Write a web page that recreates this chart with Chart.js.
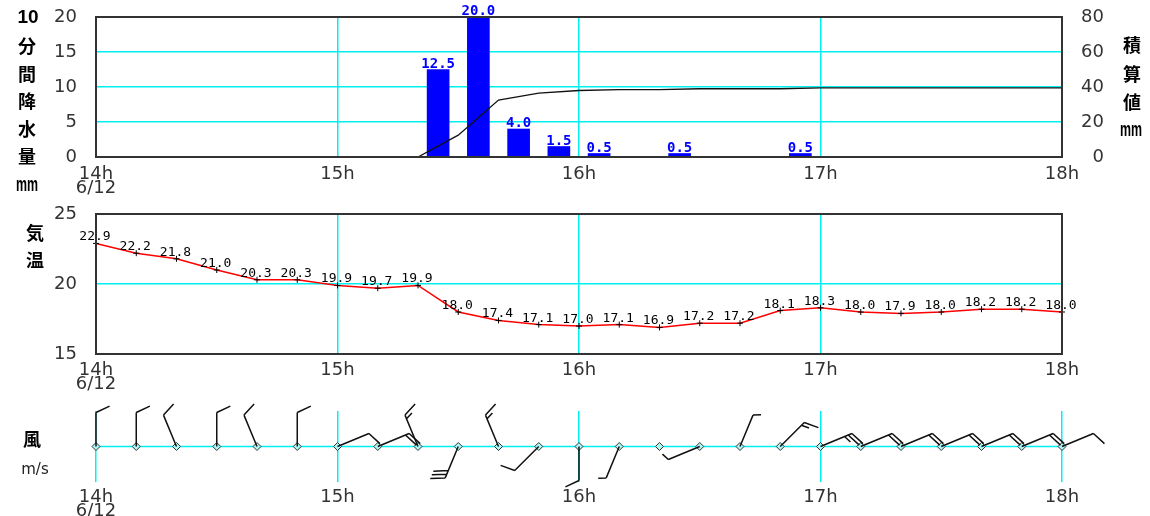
<!DOCTYPE html>
<html>
<head>
<meta charset="utf-8">
<script src="https://cdn.jsdelivr.net/npm/chart.js@4.4.1/dist/chart.umd.min.js"></script>
<style>
  html, body { margin: 0; padding: 0; background: #fff; }
  #wrap { position: relative; width: 1150px; height: 516px; overflow: hidden; }
  canvas { position: absolute; left: 0; }
  .t { position: absolute; transform: translate(-50%, -50%); line-height: 1; white-space: nowrap; color: #000; }
  .kj { font: bold 18px "Noto Sans CJK JP", sans-serif; }
  .num { font: bold 19px "Liberation Sans", sans-serif; }
  .mm { font: bold 20px "Liberation Sans", sans-serif; transform: translate(-50%, -50%) scaleX(0.62); }
  .ms { font: 15px "DejaVu Sans", sans-serif; color: #222; }
</style>
</head>
<body>
<div id="wrap">
  <canvas id="cRain" width="1150" height="200" style="top:0"></canvas>
  <canvas id="cTemp" width="1150" height="200" style="top:195px"></canvas>
  <canvas id="cWind" width="1150" height="121" style="top:395px"></canvas>

  <div class="t num" style="left:28px;top:17px">10</div>
  <div class="t kj" style="left:27px;top:45px">分</div>
  <div class="t kj" style="left:27px;top:73px">間</div>
  <div class="t kj" style="left:27px;top:100px">降</div>
  <div class="t kj" style="left:27px;top:128px">水</div>
  <div class="t kj" style="left:27px;top:155px">量</div>
  <div class="t mm" style="left:27px;top:184px">mm</div>

  <div class="t kj" style="left:1132px;top:44px">積</div>
  <div class="t kj" style="left:1132px;top:73px">算</div>
  <div class="t kj" style="left:1132px;top:101px">値</div>
  <div class="t mm" style="left:1131px;top:129px">mm</div>

  <div class="t kj" style="left:35px;top:232px">気</div>
  <div class="t kj" style="left:35px;top:259px">温</div>

  <div class="t kj" style="left:32px;top:438px">風</div>
  <div class="t ms" style="left:35px;top:469px">m/s</div>
</div>
<script>
// 時刻 (14時からの分)
const minutes = [0, 10, 20, 30, 40, 50, 60, 70, 80, 90, 100, 110, 120, 130, 140, 150, 160, 170, 180, 190, 200, 210, 220, 230, 240];
const hourLabels = ['14h', '15h', '16h', '17h', '18h'];
const dateLabel = '6/12';

// 10分間降水量 (各10分間の中央に棒)
const rainMid = [5, 15, 25, 35, 45, 55, 65, 75, 85, 95, 105, 115, 125, 135, 145, 155, 165, 175, 185, 195, 205, 215, 225, 235];
const rain10 = [0, 0, 0, 0, 0, 0, 0, 0, 12.5, 20.0, 4.0, 1.5, 0.5, 0, 0.5, 0, 0, 0.5, 0, 0, 0, 0, 0, 0];
// 積算値
const rainSum = [0, 0, 0, 0, 0, 0, 0, 0, 0, 12.5, 32.5, 36.5, 38.0, 38.5, 38.5, 39.0, 39.0, 39.0, 39.5, 39.5, 39.5, 39.5, 39.5, 39.5, 39.5];
const rainTicks = [0, 5, 10, 15, 20];
const sumTicks = [0, 20, 40, 60, 80];

// 気温
const temps = [22.9, 22.2, 21.8, 21.0, 20.3, 20.3, 19.9, 19.7, 19.9, 18.0, 17.4, 17.1, 17.0, 17.1, 16.9, 17.2, 17.2, 18.1, 18.3, 18.0, 17.9, 18.0, 18.2, 18.2, 18.0];
const tempTicks = [15, 20, 25];

// 風向・風速 (矢羽根: 長=2m/s, 短=1m/s)
const windDir = ['N', 'N', 'NNW', 'N', 'NNW', 'N', 'ENE', 'ENE', 'NNW', 'SSW', 'NNW', 'SW', 'S', 'SSW', '', 'WSW', 'NNE', 'NE', 'ENE', 'ENE', 'ENE', 'ENE', 'ENE', 'ENE', 'ENE'];
const windSpeed = [2, 2, 2, 2, 2, 2, 2, 4, 3, 6, 3, 2, 2, 1, 0, 1, 1, 3, 5, 4, 4, 4, 4, 4, 2];

const compass = ['N', 'NNE', 'NE', 'ENE', 'E', 'ESE', 'SE', 'SSE', 'S', 'SSW', 'SW', 'WSW', 'W', 'WNW', 'NW', 'NNW'];
const CYAN = '#00f0f0';
const TICK_FONT = { family: 'DejaVu Sans', size: 18 };

// x軸 (共通)
function xAxis(height, pad) {
    return {
        type: 'linear',
        min: minutes[0],
        max: minutes[minutes.length - 1],
        offset: false,
        afterFit: s => { s.height = height; },
        afterBuildTicks: s => { s.ticks = hourLabels.map((_, i) => ({ value: i * 60 })); },
        ticks: {
            autoSkip: false,
            maxRotation: 0,
            padding: pad,
            color: '#333',
            font: { family: 'DejaVu Sans', size: 18, lineHeight: 0.8 },
            callback: v => {
                const i = Math.round(v / 60);
                return i === 0 ? [hourLabels[0], dateLabel] : hourLabels[i];
            }
        },
        grid: { color: CYAN, lineWidth: 1.5, drawTicks: false, offset: false },
        border: { display: false }
    };
}

// y軸の幅を固定 (ラベル分の余白は取らない)
function fixWidth(w) {
    return s => {
        s.width = w;
        s.paddingTop = 0;
        s.paddingBottom = 0;
    };
}

// 左y軸
function yLeft(ticksArr) {
    return {
        position: 'left',
        min: ticksArr[0],
        max: ticksArr[ticksArr.length - 1],
        afterFit: fixWidth(96),
        afterBuildTicks: s => { s.ticks = ticksArr.map(v => ({ value: v })); },
        ticks: { padding: 19, color: '#333', font: TICK_FONT },
        grid: { color: CYAN, lineWidth: 1.5, drawTicks: false },
        border: { display: false }
    };
}

// 枠線
const boxPlugin = {
    id: 'box',
    afterDraw(chart) {
        const { ctx, chartArea: a } = chart;
        ctx.save();
        ctx.strokeStyle = '#333';
        ctx.lineWidth = 2;
        ctx.strokeRect(a.left, a.top, a.right - a.left, a.bottom - a.top);
        ctx.restore();
    }
};

// 棒の上の数値
const rainLabels = {
    id: 'rainLabels',
    afterDatasetsDraw(chart) {
        const { ctx } = chart;
        const meta = chart.getDatasetMeta(0);
        ctx.save();
        ctx.font = 'bold 14px "DejaVu Sans Mono"';
        ctx.fillStyle = '#0000ff';
        ctx.textAlign = 'center';
        ctx.textBaseline = 'alphabetic';
        meta.data.forEach((bar, i) => {
            if (rain10[i] > 0) ctx.fillText(rain10[i].toFixed(1), bar.x, bar.y - 2);
        });
        ctx.restore();
    }
};

// 気温の数値
const tempLabels = {
    id: 'tempLabels',
    afterDatasetsDraw(chart) {
        const { ctx } = chart;
        const meta = chart.getDatasetMeta(0);
        ctx.save();
        ctx.font = '13px "DejaVu Sans Mono"';
        ctx.fillStyle = '#000';
        ctx.textAlign = 'center';
        ctx.textBaseline = 'alphabetic';
        meta.data.forEach((p, i) => {
            ctx.fillText(temps[i].toFixed(1), p.x - 1, p.y - 3);
        });
        ctx.restore();
    }
};

// 矢羽根
const SHAFT = 34;
const windBarbs = {
    id: 'windBarbs',
    afterDatasetsDraw(chart) {
        const { ctx, scales: { x, y } } = chart;
        ctx.save();
        ctx.strokeStyle = '#111';
        ctx.lineWidth = 1.5;
        minutes.forEach((m, i) => {
            const spd = windSpeed[i];
            if (!spd || !windDir[i]) return;
            const rad = compass.indexOf(windDir[i]) * 22.5 * Math.PI / 180;
            const px = x.getPixelForValue(m);
            const py = y.getPixelForValue(0);
            const ux = Math.sin(rad), uy = -Math.cos(rad);
            const tx = px + ux * SHAFT, ty = py + uy * SHAFT;
            ctx.beginPath();
            ctx.moveTo(px, py);
            ctx.lineTo(tx, ty);
            const fa = rad + 65 * Math.PI / 180;
            const fx = Math.sin(fa), fy = -Math.cos(fa);
            let left = spd, k = 0;
            while (left > 0) {
                const len = left >= 2 ? 15 : 8;
                const sx = tx - ux * k * 4, sy = ty - uy * k * 4;
                ctx.moveTo(sx, sy);
                ctx.lineTo(sx + fx * len, sy + fy * len);
                left -= 2;
                k++;
            }
            ctx.stroke();
        });
        ctx.restore();
    }
};

const common = {
    responsive: false,
    animation: false,
    devicePixelRatio: 1,
    plugins: { legend: { display: false }, tooltip: { enabled: false } }
};

// 降水量
new Chart(document.getElementById('cRain'), {
    type: 'line',
    data: {
        datasets: [
            {
                type: 'bar',
                data: rainMid.map((m, i) => ({ x: m, y: rain10[i] })),
                backgroundColor: '#0000ff',
                borderWidth: 0,
                barThickness: 22,
                yAxisID: 'y',
                order: 2
            },
            {
                type: 'line',
                data: minutes.map((m, i) => ({ x: m, y: rainSum[i] })),
                borderColor: '#111',
                borderWidth: 1.3,
                pointRadius: 0,
                tension: 0,
                yAxisID: 'y2',
                order: 1
            }
        ]
    },
    options: {
        ...common,
        layout: { padding: { top: 17, right: 46, bottom: 0, left: 0 } },
        scales: {
            x: xAxis(43, 10),
            y: yLeft(rainTicks),
            y2: {
                position: 'right',
                min: sumTicks[0],
                max: sumTicks[sumTicks.length - 1],
                afterFit: fixWidth(42),
                afterBuildTicks: s => { s.ticks = sumTicks.map(v => ({ value: v })); },
                ticks: { padding: 19, crossAlign: 'far', color: '#333', font: TICK_FONT },
                grid: { display: false },
                border: { display: false }
            }
        }
    },
    plugins: [rainLabels, boxPlugin]
});

// 気温
new Chart(document.getElementById('cTemp'), {
    type: 'line',
    data: {
        datasets: [{
            data: minutes.map((m, i) => ({ x: m, y: temps[i] })),
            borderColor: '#ff0000',
            borderWidth: 1.5,
            tension: 0,
            pointStyle: 'cross',
            pointRadius: 3,
            pointBorderColor: '#000',
            pointBorderWidth: 1,
            clip: false
        }]
    },
    options: {
        ...common,
        layout: { padding: { top: 19, right: 88, bottom: 0, left: 0 } },
        scales: {
            x: xAxis(41, 9),
            y: yLeft(tempTicks)
        }
    },
    plugins: [tempLabels, boxPlugin]
});

// 風
new Chart(document.getElementById('cWind'), {
    type: 'line',
    data: {
        datasets: [{
            data: minutes.map(m => ({ x: m, y: 0 })),
            borderColor: CYAN,
            borderWidth: 1.5,
            pointStyle: 'rectRot',
            pointRadius: 4,
            pointBackgroundColor: '#aaf8f8',
            pointBorderColor: '#333',
            pointBorderWidth: 1,
            clip: false
        }]
    },
    options: {
        ...common,
        layout: { padding: { top: 16, right: 88, bottom: 0, left: 96 } },
        scales: {
            x: xAxis(34, 8),
            y: { display: false, min: -1, max: 1 }
        }
    },
    plugins: [windBarbs]
});
</script>
</body>
</html>
